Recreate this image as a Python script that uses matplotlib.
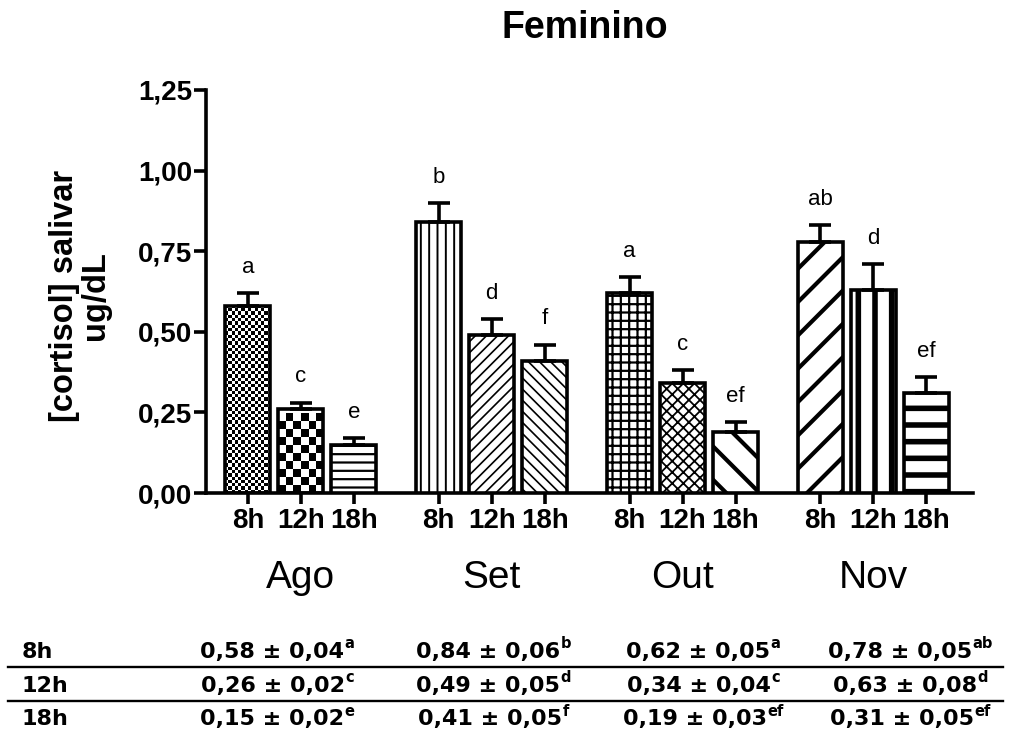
import matplotlib
matplotlib.use("Agg")
import matplotlib.pyplot as plt
import matplotlib.transforms as mtransforms
import numpy as np

# cortisol means and SEM per month / collection time
months = ["Ago", "Set", "Out", "Nov"]
times = ["8h", "12h", "18h"]
means = [[0.58, 0.26, 0.15],
         [0.84, 0.49, 0.41],
         [0.62, 0.34, 0.19],
         [0.78, 0.63, 0.31]]
sems = [[0.04, 0.02, 0.02],
        [0.06, 0.05, 0.05],
        [0.05, 0.04, 0.03],
        [0.05, 0.08, 0.05]]
letters = [["a", "c", "e"],
           ["b", "d", "f"],
           ["a", "c", "ef"],
           ["ab", "d", "ef"]]

# fill style per bar: ("hatch", pattern, hatch lw) or ("checker", cell px)
fills = [[("checker", 3.3), ("checker", 8.0), ("hatch", "--", 1.6)],
         [("hatch", "||", 1.4), ("hatch", "///", 1.2), ("hatch", "\\\\\\", 1.2)],
         [("hatch", "++", 1.6), ("hatch", "xxx", 1.3), ("hatch", "\\", 3.0)],
         [("hatch", "/", 3.0), ("hatch", "|", 4.0), ("hatch", "-", 4.0)]]

plt.rcParams["font.family"] = ["Liberation Sans", "DejaVu Sans"]
plt.rcParams["hatch.color"] = "black"

W, H = 1010, 736
fig = plt.figure(figsize=(W / 100, H / 100), dpi=100)
ax = fig.add_axes([206 / W, 1 - 493 / H, (973 - 206) / W, (493 - 90) / H])

group_step = 3.6
width = 0.85
xs = [g * group_step + np.arange(3) for g in range(len(months))]

ax.set_xlim(-0.79, 13.68)
ax.set_ylim(0, 1.25)

px_per_y = ax.transData.transform((0, 1))[1] - ax.transData.transform((0, 0))[1]
px_per_x = ax.transData.transform((1, 0))[0] - ax.transData.transform((0, 0))[0]

for g in range(len(months)):
    for t in range(3):
        x, v, style = xs[g][t], means[g][t], fills[g][t]
        if style[0] == "hatch":
            with plt.rc_context({"hatch.linewidth": style[2]}):
                bar = ax.bar(x, v, width, color="white", edgecolor="black",
                             linewidth=2.6, hatch=style[1], zorder=3)[0]
            if hasattr(bar, "set_hatch_linewidth"):
                bar.set_hatch_linewidth(style[2])
        else:
            bar = ax.bar(x, v, width, facecolor="none", edgecolor="black",
                         linewidth=2.6, zorder=3)[0]
            cell = style[1]
            ncol = max(1, int(round(width * px_per_x / cell)))
            nrow = max(1, int(round(v * px_per_y / cell)))
            board = (np.add.outer(np.arange(nrow), np.arange(ncol)) % 2).astype(float)
            img = ax.imshow(board, cmap="gray", interpolation="nearest", aspect="auto",
                            extent=(x - width / 2, x + width / 2, 0, nrow * cell / px_per_y),
                            origin="lower", zorder=2)
            img.set_clip_path(bar)
        ax.errorbar(x, v, yerr=[[0], [sems[g][t]]], fmt="none", ecolor="black",
                    elinewidth=2.6, capsize=8, capthick=2.6, zorder=4)
        ax.annotate(letters[g][t], (x, v + sems[g][t]), xytext=(0, 11),
                    textcoords="offset points", ha="center", va="bottom",
                    fontsize=16)

ax.set_xlim(-0.79, 13.68)
ax.set_ylim(0, 1.25)

for s in ["top", "right"]:
    ax.spines[s].set_visible(False)
for s in ["left", "bottom"]:
    ax.spines[s].set_linewidth(2.6)

ax.set_xticks(np.concatenate(xs))
ax.set_xticklabels(times * len(months), fontsize=20, fontweight="bold")
ax.set_yticks([0, 0.25, 0.5, 0.75, 1.0, 1.25])
ax.set_yticklabels([f"{v:.2f}".replace(".", ",") for v in ax.get_yticks()],
                   fontsize=20, fontweight="bold")
ax.tick_params(axis="x", direction="out", length=8, width=2.6, pad=3)
ax.tick_params(axis="y", direction="out", length=9, width=2.6, pad=1)

# month names under each group
blend = mtransforms.blended_transform_factory(ax.transData, fig.transFigure)
for g, m in enumerate(months):
    ax.text(xs[g].mean(), 1 - 578 / H, m, transform=blend, ha="center",
            va="center", fontsize=28)

fig.text(585 / W, 1 - 28 / H, "Feminino", ha="center", va="center",
         fontsize=27, fontweight="bold")
fig.text(80 / W, 1 - 296 / H, "[cortisol] salivar\nug/dL", rotation=90,
         ha="center", va="center", multialignment="center",
         fontsize=23.5, fontweight="bold", linespacing=1.0)

# summary table below the chart: mean ± sem with superscript letters
tfont = "DejaVu Sans"
col_x = [277, 493, 703, 910]
row_y = [652, 686, 719]
renderer = fig.canvas.get_renderer()
for t, label in enumerate(times):
    fig.text(22 / W, 1 - row_y[t] / H, label, ha="left", va="center",
             fontsize=16, fontweight="bold", family=tfont)
    for g in range(len(months)):
        s = f"{means[g][t]:.2f} ± {sems[g][t]:.2f}".replace(".", ",")
        main = fig.text(0, 1 - row_y[t] / H, s, ha="left", va="center",
                        fontsize=16, fontweight="bold", family=tfont)
        sup = fig.text(0, 1 - (row_y[t] - 8) / H, letters[g][t], ha="left",
                       va="center", fontsize=10.5, fontweight="bold", family=tfont)
        w_main = main.get_window_extent(renderer).width
        w_sup = sup.get_window_extent(renderer).width
        left = col_x[g] - (w_main + w_sup) / 2
        main.set_x(left / W)
        sup.set_x((left + w_main + 0.5) / W)
for yl in [667, 701]:
    fig.add_artist(plt.Line2D([8 / W, 1003 / W], [1 - yl / H, 1 - yl / H],
                              color="black", linewidth=1.7))

fig.savefig("out.png", dpi=100, facecolor="white")
